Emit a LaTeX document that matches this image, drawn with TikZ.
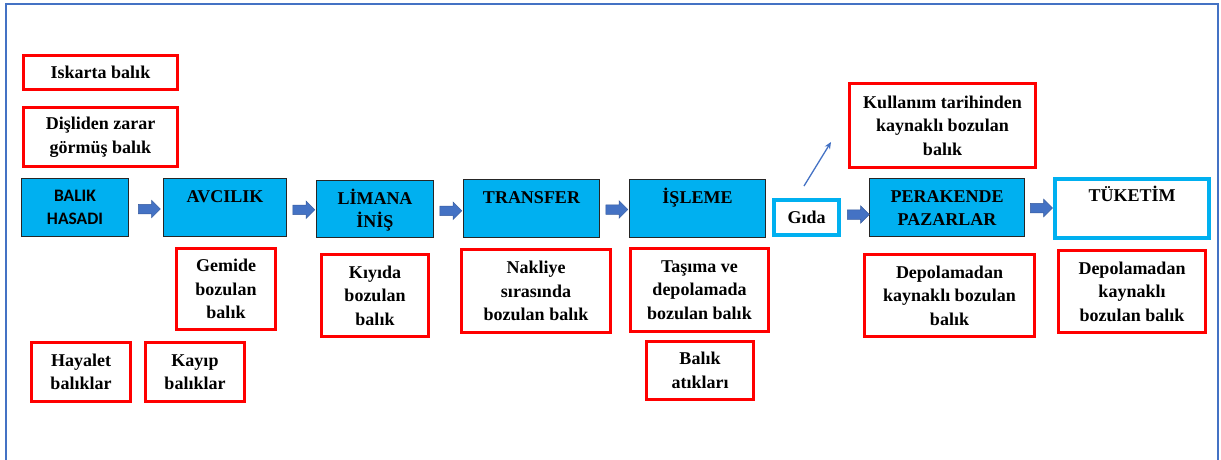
\documentclass[tikz,border=0pt]{standalone}
\usepackage{fontspec}
\setmainfont{Liberation Serif}
\newfontfamily\calfont{Carlito}
\usetikzlibrary{shapes.arrows,arrows.meta,calc}
\definecolor{boxblue}{RGB}{0,176,240}
\definecolor{frameblue}{RGB}{68,114,196}
\definecolor{lossred}{RGB}{255,0,0}
\begin{document}
\begin{tikzpicture}[x=1pt,y=-1pt,
  txt/.style={font=\fontsize{18}{23.5}\selectfont\bfseries, align=center, text=black},
  loss/.style={draw=lossred, line width=3pt, fill=white, inner sep=0pt, txt},
  stage/.style={draw=black!85, line width=1.2pt, fill=boxblue, inner sep=0pt, txt},
  cyanbox/.style={draw=boxblue, line width=4pt, fill=white, inner sep=0pt, txt},
  toplabel/.style={label={[txt, anchor=north, inner sep=0pt, yshift=-8.5pt]north:{#1}}},
  flow/.style={single arrow, fill=frameblue, draw=frameblue!80!black, line width=0.5pt,
    inner xsep=0pt, inner ysep=4.5pt, single arrow head extend=4pt,
    minimum height=22pt, minimum width=0pt},
  thin/.style={draw=frameblue, line width=1.3pt, -{Stealth[length=7pt,width=6pt]}}
]
\useasboundingbox (0,0) rectangle (1221,459);
\draw[frameblue, line width=2pt] (6,470) -- (6,4) -- (1218,4) -- (1218,470);

% main stages
\node[stage, minimum width=107pt, minimum height=58pt,
  font=\calfont\fontsize{17.5}{23}\selectfont\bfseries] (hasadi) at (75,207.5)
  {BALIK\\HASADI};
\node[stage, minimum width=123pt, minimum height=58pt,
  toplabel={\vphantom{İ}AVCILIK}] (avcilik) at (225,207.5) {};
\node[stage, minimum width=117pt, minimum height=57pt,
  toplabel={LİMANA\\İNİŞ}] (liman) at (375,209) {};
\node[stage, minimum width=136pt, minimum height=58pt,
  toplabel={\vphantom{İ}TRANSFER}] (transfer) at (531.5,208.5) {};
\node[stage, minimum width=136pt, minimum height=58pt,
  toplabel={İŞLEME}] (isleme) at (697.5,208.5) {};
\node[cyanbox, minimum width=65pt, minimum height=35pt] (gida) at (806.5,217.5) {Gıda};
\node[stage, minimum width=155pt, minimum height=58pt,
  toplabel={\vphantom{İ}PERAKENDE\\PAZARLAR}] (perakende) at (947,207.5) {};
\node[cyanbox, minimum width=154pt, minimum height=59pt,
  toplabel={TÜKETİM}] (tuketim) at (1132,208.5) {};

% block arrows between stages
\node[flow] (f1) at ($(hasadi.east)!0.5!(avcilik.west)+(1,1.5)$) {};
\node[flow] (f2) at ($(avcilik.east)!0.5!(liman.west)+(0,1.5)$) {};
\node[flow] (f3) at ($(liman.east)!0.5!(transfer.west)+(0,2)$) {};
\node[flow] (f4) at ($(transfer.east)!0.5!(isleme.west)+(0,1)$) {};
\node[flow] (f5) at ($(gida.east)!0.5!(perakende.west)+(1,2)$) {};
\node[flow] (f6) at ($(perakende.east)!0.5!(tuketim.west)+(0,0)$) {};

% loss boxes
\node[loss, minimum width=154pt, minimum height=34pt] (iskarta) at (100.5,72.5) {Iskarta balık};
\node[loss, minimum width=154pt, minimum height=59pt] (disli) at (100.5,137) {Dişliden zarar\\görmüş balık};
\node[loss, minimum width=99pt, minimum height=81pt] (gemide) at (226,289) {Gemide\\bozulan\\balık};
\node[loss, minimum width=107pt, minimum height=82pt] (kiyida) at (375,295.5) {Kıyıda\\bozulan\\balık};
\node[loss, minimum width=99pt, minimum height=59pt] (hayalet) at (81,372) {Hayalet\\balıklar};
\node[loss, minimum width=99pt, minimum height=59pt] (kayip) at (195,372) {Kayıp\\balıklar};
\node[loss, minimum width=149pt, minimum height=83pt] (nakliye) at (536,291) {Nakliye\\sırasında\\bozulan balık};
\node[loss, minimum width=138pt, minimum height=83pt] (tasima) at (699.5,290) {Taşıma ve\\depolamada\\bozulan balık};
\node[loss, minimum width=107pt, minimum height=58pt] (atik) at (700,370.5) {Balık\\atıkları};
\node[loss, minimum width=186pt, minimum height=84pt] (kullanim) at (942.5,125.5) {Kullanım tarihinden\\kaynaklı bozulan\\balık};
\node[loss, minimum width=170pt, minimum height=82pt] (depo1) at (949.5,295.5) {Depolamadan\\kaynaklı bozulan\\balık};
\node[loss, minimum width=147pt, minimum height=82pt] (depo2) at (1132,291.5) {Depolamadan\\kaynaklı\\bozulan balık};

% thin arrow from Gıda
\coordinate (g1) at ($(gida.north)+(-2.5,-12)$);
\coordinate (g2) at (831,142);
\draw[thin] (g1) -- (g2);
\end{tikzpicture}
\end{document}
